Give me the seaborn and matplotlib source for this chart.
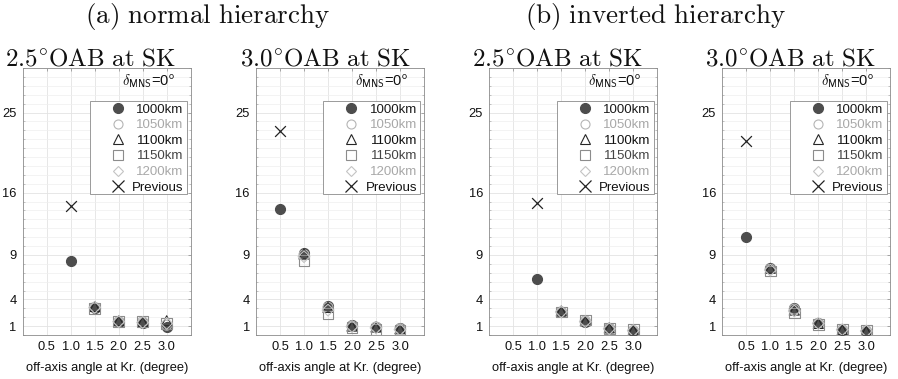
import matplotlib
matplotlib.use("Agg")
import matplotlib.pyplot as plt
from matplotlib.patches import Rectangle
from matplotlib.ticker import MultipleLocator, FixedLocator
import seaborn as sns
import pandas as pd

# ---------------- data ----------------
angles = [0.5, 1.0, 1.5, 2.0, 2.5, 3.0]
baselines = ["1000km", "1050km", "1100km", "1150km", "1200km"]
panel_titles = ["2.5°OAB at SK", "3.0°OAB at SK", "2.5°OAB at SK", "3.0°OAB at SK"]
group_titles = ["(a) normal hierarchy", "(b) inverted hierarchy"]
xtick_labels = ["0.5", "1.0", "1.5", "2.0", "2.5", "3.0"]
yticks = [1, 4, 9, 16, 25]
xlabel = "off-axis angle at Kr. (degree)"
delta_label = "0"

# NH, 2.5 deg OAB (no point at 0.5)
nh25_1000 = [None, 8.3, 3.0, 1.5, 1.4, 0.9]
nh25_1050 = [None, None, 3.1, 1.5, 1.5, 1.1]
nh25_1100 = [None, None, 3.2, 1.6, 1.5, 1.6]
nh25_1150 = [None, None, 3.0, 1.5, 1.5, 1.3]
nh25_1200 = [None, None, 3.1, 1.5, 1.4, 1.3]
nh25_prev = [None, 14.5, None, None, None, None]

# NH, 3.0 deg OAB
nh30_1000 = [14.2, 9.2, 3.3, 1.1, 0.95, 0.75]
nh30_1050 = [None, 9.0, 3.1, 1.0, 0.9, 0.7]
nh30_1100 = [None, 9.1, 3.1, 1.0, 0.9, 0.7]
nh30_1150 = [None, 8.4, 2.4, 0.85, 0.65, 0.5]
nh30_1200 = [None, 8.8, 2.8, 0.95, 0.8, 0.6]
nh30_prev = [22.9, None, None, None, None, None]

# IH, 2.5 deg OAB
ih25_1000 = [None, 6.3, 2.6, 1.5, 0.75, 0.45]
ih25_1050 = [None, None, 2.6, 1.6, 0.75, 0.5]
ih25_1100 = [None, None, 2.7, 1.6, 0.8, 0.55]
ih25_1150 = [None, None, 2.6, 1.7, 0.75, 0.6]
ih25_1200 = [None, None, 2.6, 1.5, 0.7, 0.5]
ih25_prev = [None, 14.8, None, None, None, None]

# IH, 3.0 deg OAB
ih30_1000 = [11.05, 7.5, 3.0, 1.3, 0.6, 0.4]
ih30_1050 = [None, 7.4, 2.9, 1.3, 0.6, 0.45]
ih30_1100 = [None, 7.5, 2.8, 1.3, 0.6, 0.45]
ih30_1150 = [None, 7.2, 2.45, 1.2, 0.6, 0.55]
ih30_1200 = [None, 7.3, 2.7, 1.3, 0.6, 0.45]
ih30_prev = [21.8, None, None, None, None, None]

panels = [
    [nh25_1000, nh25_1050, nh25_1100, nh25_1150, nh25_1200, nh25_prev],
    [nh30_1000, nh30_1050, nh30_1100, nh30_1150, nh30_1200, nh30_prev],
    [ih25_1000, ih25_1050, ih25_1100, ih25_1150, ih25_1200, ih25_prev],
    [ih30_1000, ih30_1050, ih30_1100, ih30_1150, ih30_1200, ih30_prev],
]
series_names = baselines + ["Previous"]

# ---------------- style ----------------
sns.set_style("whitegrid")
plt.rcParams["font.family"] = ["Liberation Sans", "DejaVu Sans"]
plt.rcParams["mathtext.fontset"] = "cm"

styles = {
    "1000km": dict(marker="o", fc="#4d4d4d", ec="#4d4d4d", s=52, ms=7.2, tc="#1a1a1a"),
    "1050km": dict(marker="o", fc="none", ec="#b5b5b5", s=52, ms=6.5, tc="#a8a8a8"),
    "1100km": dict(marker="^", fc="none", ec="#262626", s=52, ms=7.0, tc="#111111"),
    "1150km": dict(marker="s", fc="none", ec="#8c8c8c", s=58, ms=6.5, tc="#444444"),
    "1200km": dict(marker="D", fc="none", ec="#c4c4c4", s=36, ms=5.2, tc="#a8a8a8"),
    "Previous": dict(marker="x", fc="#222222", ec="#222222", s=60, ms=8.0, tc="#111111"),
}

W, H = 898, 379
fig = plt.figure(figsize=(W / 100, H / 100), dpi=100)
lefts = [22.7, 256, 489.3, 722.3]
ax_w = 168
ax_bottom = 44
ax_h = 267

# legend geometry (axes fractions, same in each panel)
leg_x0, leg_x1 = (90 - 22.7) / ax_w, (187 - 22.7) / ax_w
leg_y1, leg_y0 = (335 - 100.7) / ax_h, (335 - 194.3) / ax_h
leg_mx = (118 - 22.7) / ax_w
leg_tx = (183.7 - 22.7) / ax_w

for pi, (left, pdata) in enumerate(zip(lefts, panels)):
    ax = fig.add_axes([left / W, ax_bottom / H, ax_w / W, ax_h / H])
    for name, vals in zip(series_names, pdata):
        df = pd.DataFrame({"angle": angles, "val": vals}).dropna()
        st = styles[name]
        if name == "Previous":
            sns.scatterplot(data=df, x="angle", y="val", ax=ax, marker="x",
                            color=st["ec"], s=st["s"], linewidth=0.9, zorder=3)
        else:
            sns.scatterplot(data=df, x="angle", y="val", ax=ax, marker=st["marker"],
                            facecolor=st["fc"], edgecolor=st["ec"], s=st["s"],
                            linewidth=0.8, zorder=3)
    ax.set_xlim(0, 3.5)
    ax.set_ylim(0, 30)
    ax.xaxis.set_major_locator(FixedLocator(angles))
    ax.set_xticklabels(xtick_labels)
    ax.yaxis.set_major_locator(FixedLocator(yticks))
    ax.set_yticklabels([str(v) for v in yticks])
    ax.yaxis.set_minor_locator(MultipleLocator(1))
    ax.grid(which="major", color="#e3e3e3", linewidth=0.6)
    ax.grid(which="minor", axis="y", color="#efefef", linewidth=0.5)
    ax.tick_params(axis="both", which="major", direction="in", length=2.5, width=0.5,
                   color="#888888", labelsize=9.3, labelcolor="#111111",
                   top=True, right=True, pad=4.5)
    ax.tick_params(axis="y", which="minor", direction="in", length=1.5, width=0.4,
                   color="#999999", left=True, right=True)
    for sp in ax.spines.values():
        sp.set_color("#8a8a8a")
        sp.set_linewidth(0.6)
    ax.set_xlabel(xlabel, fontsize=9.3, color="#111111", labelpad=6)
    ax.set_ylabel("")
    ax.text(0.906, 0.952, r"$\delta_{\mathsf{MNS}}$" + "=" + delta_label + r"$^{\mathsf{o}}$",
            transform=ax.transAxes, ha="right", va="center", fontsize=10.5, color="#111111")

    # MATLAB-style legend box (right-aligned labels)
    ax.add_patch(Rectangle((leg_x0, leg_y0), leg_x1 - leg_x0, leg_y1 - leg_y0,
                           transform=ax.transAxes, facecolor="white", edgecolor="#8a8a8a",
                           linewidth=0.6, zorder=4))
    for i, name in enumerate(series_names):
        st = styles[name]
        yf = (335 - (108.3 + 15.55 * i)) / ax_h
        if name == "Previous":
            ax.plot([leg_mx], [yf], transform=ax.transAxes, ls="none", marker="x",
                    color=st["ec"], markersize=st["ms"], markeredgewidth=0.9,
                    zorder=5, clip_on=False)
        else:
            ax.plot([leg_mx], [yf], transform=ax.transAxes, ls="none", marker=st["marker"],
                    markerfacecolor=st["fc"], markeredgecolor=st["ec"],
                    markersize=st["ms"], markeredgewidth=0.8, zorder=5, clip_on=False)
        ax.text(leg_tx, yf, name, transform=ax.transAxes, ha="right",
                va="center_baseline", fontsize=9.5, color=st["tc"], zorder=6)

    # panel title
    title_cx = [90.5, 325, 557, 790][pi]
    txt = panel_titles[pi].replace("°", r"^{\circ}").replace(" ", r"\ ")
    fig.text(title_cx / W, 1 - 58 / H, r"$\mathrm{" + txt + "}$", ha="center",
             va="center", fontsize=18, color="#111111")

for gi, (cx, gt) in enumerate(zip([208, 655], group_titles)):
    txt = gt.replace(" ", r"\ ")
    fig.text(cx / W, 1 - 16 / H, r"$\mathrm{" + txt + "}$", ha="center", va="center",
             fontsize=19.5, color="#111111")

fig.savefig("out.png", dpi=100)
